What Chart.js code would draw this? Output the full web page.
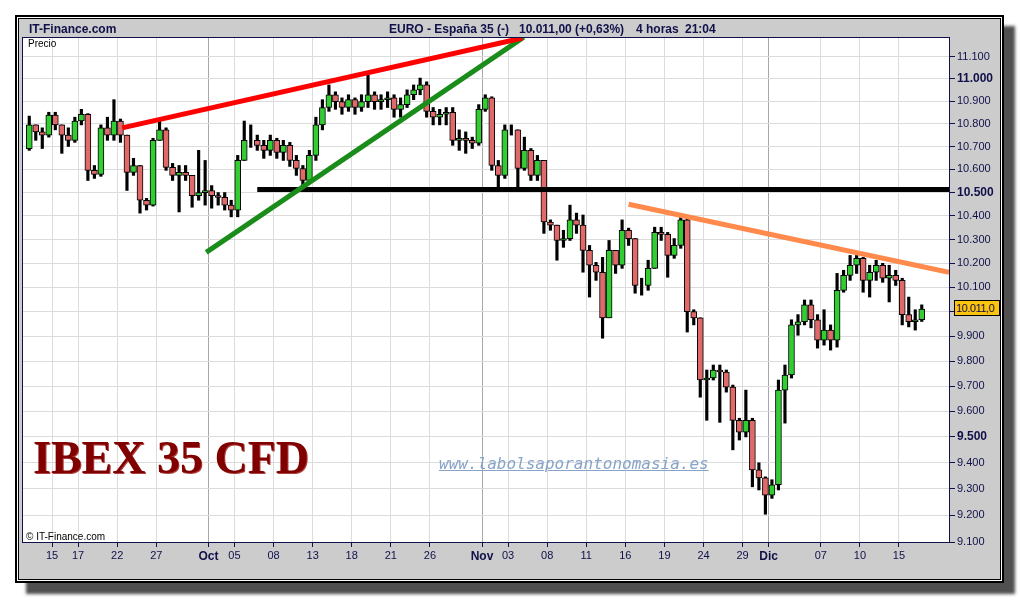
<!DOCTYPE html>
<html>
<head>
<meta charset="utf-8">
<script src="https://cdn.jsdelivr.net/npm/chart.js@4.4.0/dist/chart.umd.min.js"></script>
<style>
    body { margin: 0; width: 1020px; height: 600px; overflow: hidden; position: relative; background: #fff; font-family: "Liberation Sans", Arial, sans-serif; }
    #frame { position: absolute; left: 15px; top: 15px; width: 985px; height: 564px; border: 2px solid #000; background: #fff; box-shadow: 11px 11px 3px #505050; }
    #inner { position: absolute; left: 1px; top: 1px; right: 1px; bottom: 1px; border: 1px solid #000; background: #cccccc; }
    #plotBg { position: absolute; left: 22px; top: 37px; width: 928px; height: 506px; box-sizing: border-box; border: 1px solid #10104a; background: #fff; }
    #chartWrap { position: absolute; left: 0; top: 0; width: 1020px; height: 600px; }
    .txt { position: absolute; white-space: pre; color: #10104a; }
    .head { top: 22px; font-size: 12px; line-height: 14px; font-weight: bold; }
    #ibex { left: 33px; top: 435px; font-family: "Liberation Serif", "DejaVu Serif", serif; font-weight: bold; font-size: 46px; line-height: 46px; color: #800000; text-shadow: 1px 1px 0 #b04040; }
    #web { left: 439px; top: 455px; font-family: "DejaVu Sans Mono", monospace; font-style: oblique; font-size: 16px; line-height: 18px; color: #87a3c8; text-decoration: underline; }
    #lastPrice { left: 954px; top: 300px; width: 46px; height: 16px; box-sizing: border-box; border: 1px solid #000; background: #fdc40f; font-size: 11px; line-height: 14px; padding-left: 1px; letter-spacing: -0.5px; }
</style>
</head>
<body>
<div id="frame"><div id="inner"></div></div>
<div id="plotBg"></div>
<div id="chartWrap"><canvas id="myChart" width="1020" height="600"></canvas></div>
<div class="txt head" style="left:29px">IT-Finance.com</div>
<div class="txt head" style="left:389px">EURO - España 35 (-)</div>
<div class="txt head" style="left:519px">10.011,00 (+0,63%)</div>
<div class="txt head" style="left:636px">4 horas</div>
<div class="txt head" style="left:685px">21:04</div>
<div class="txt" style="left:28px;top:38px;font-size:10px;line-height:11px;color:#000">Precio</div>
<div class="txt" style="left:26px;top:531px;font-size:10px;line-height:11px;color:#000">© IT-Finance.com</div>
<div class="txt" id="ibex">IBEX 35 CFD</div>
<div class="txt" id="web">www.labolsaporantonomasia.es</div>
<div class="txt" id="lastPrice">10.011,0</div>
<script>
// 4 horas, dos velas por sesion (13 sep - 16 dic)
const firstOpen = 10690;
const closes = [
    10795, 10764, 10750, 10838, 10795, 10750, 10727, 10812, 10842, 10596,
    10578, 10782, 10750, 10812, 10750, 10587, 10617, 10467, 10446, 10727,
    10773, 10609, 10574, 10587, 10574, 10487, 10500, 10509, 10487, 10479,
    10446, 10425, 10639, 10727, 10727, 10705, 10683, 10727, 10674, 10705,
    10639, 10604, 10552, 10661, 10795, 10872, 10929, 10898, 10872, 10907,
    10872, 10898, 10929, 10898, 10907, 10915, 10864, 10885, 10929, 10951,
    10973, 10855, 10829, 10842, 10851, 10727, 10736, 10727, 10714, 10864,
    10915, 10617, 10574, 10773, 10773, 10604, 10683, 10574, 10639, 10374,
    10361, 10296, 10304, 10383, 10361, 10254, 10192, 10163, 9975, 10254,
    10192, 10339, 10304, 10108, 10108, 10179, 10330, 10322, 10233, 10275,
    10383, 10000, 9975, 9724, 9732, 9764, 9756, 9696, 9565, 9519,
    9565, 9373, 9342, 9276, 9316, 9684, 9744, 9946, 9959, 10028,
    9967, 9884, 9925, 9884, 10088, 10150, 10192, 10221, 10129, 10163,
    10192, 10138, 10150, 10129, 9988, 9959, 9967, 10011
];
const highs = [
    10834, 10795, 10782, 10851, 10851, 10795, 10782, 10829, 10864, 10845,
    10617, 10795, 10829, 10907, 10821, 10750, 10648, 10617, 10475, 10736,
    10816, 10782, 10626, 10617, 10617, 10574, 10683, 10639, 10530, 10500,
    10500, 10467, 10661, 10812, 10795, 10750, 10727, 10750, 10736, 10727,
    10718, 10661, 10617, 10683, 10829, 10907, 10973, 10942, 10915, 10929,
    10915, 10929, 11018, 10942, 10929, 10942, 10929, 10915, 10951, 10973,
    11004, 10987, 10872, 10864, 10872, 10872, 10773, 10764, 10741, 10885,
    10929, 10920, 10639, 10795, 10795, 10773, 10741, 10691, 10661, 10639,
    10383, 10361, 10339, 10446, 10412, 10404, 10275, 10204, 10225, 10296,
    10254, 10383, 10348, 10304, 10138, 10213, 10352, 10352, 10330, 10304,
    10396, 10392, 10008, 9975, 9764, 9784, 9784, 9764, 9704, 9573,
    9684, 9573, 9400, 9346, 9335, 9724, 9784, 9967, 9988, 10048,
    10048, 9988, 10008, 9946, 10158, 10171, 10233, 10233, 10225, 10192,
    10213, 10200, 10192, 10171, 10138, 10060, 10008, 10028
];
const lows = [
    10683, 10727, 10691, 10741, 10773, 10670, 10700, 10718, 10795, 10552,
    10561, 10570, 10727, 10727, 10718, 10509, 10574, 10412, 10425, 10442,
    10727, 10596, 10552, 10417, 10552, 10437, 10467, 10446, 10433, 10446,
    10425, 10396, 10396, 10639, 10696, 10683, 10648, 10661, 10648, 10639,
    10613, 10574, 10526, 10539, 10639, 10773, 10855, 10864, 10842, 10855,
    10842, 10855, 10872, 10864, 10864, 10872, 10829, 10829, 10872, 10907,
    10929, 10829, 10795, 10795, 10795, 10705, 10683, 10670, 10691, 10705,
    10855, 10596, 10522, 10561, 10750, 10522, 10596, 10552, 10552, 10326,
    10339, 10213, 10267, 10296, 10326, 10163, 10060, 10129, 9892, 9975,
    10158, 10179, 10275, 10076, 10068, 10088, 10179, 10296, 10142, 10221,
    10263, 9917, 9946, 9656, 9565, 9724, 9557, 9676, 9450, 9488,
    9500, 9308, 9296, 9204, 9264, 9296, 9554, 9732, 9904, 9946,
    9934, 9852, 9864, 9844, 9856, 10080, 10129, 10158, 10080, 10060,
    10129, 10121, 10040, 10108, 9946, 9938, 9925, 9960
];

// eje x: sesiones desde el 13 sep
const tickDays = [2, 4, 7, 10, 14, 16, 19, 22, 25, 28, 31, 35, 37, 40, 43, 46, 49, 52, 55, 57, 61, 64, 67];
const tickLabels = ['15', '17', '22', '27', 'Oct', '05', '08', '13', '18', '21', '26', 'Nov', '03', '08', '11', '16', '19', '24', '29', 'Dic', '07', '10', '15'];
const monthLabels = ['Oct', 'Nov', 'Dic'];
const xMin = -0.23, xMax = 70.84;

const yTicks = [9100, 9200, 9300, 9400, 9500, 9600, 9700, 9800, 9900, 10000, 10100, 10200, 10300, 10400, 10500, 10600, 10700, 10800, 10900, 11000, 11100];
const yBold = [9500, 10500, 11000];
const yMin = 9100, yMax = 11186;

// lineas de tendencia [sesion, precio]
const redLine = [[7.38, 10782], [38.11, 11186]];
const greenLine = [[13.83, 10246], [38.2, 11190]];
const blackLine = [[17.75, 10513], [71, 10513]];
const orangeLine = [[46.25, 10450], [70.84, 10163]];

const navy = '#10104a';

function candleX(i) {
    return Math.floor(i / 2) + (i % 2 ? 0.75 : 0.25);
}

const opens = closes.map((c, i) => i ? closes[i - 1] : firstOpen);
const bodyData = closes.map((c, i) => ({ x: candleX(i), y: [opens[i], c] }));
const wickData = closes.map((c, i) => ({ x: candleX(i), y: [lows[i], highs[i]] }));
const bodyColors = closes.map((c, i) => c >= opens[i] ? '#33cc33' : '#e06a6a');

function trend(points, color) {
    return {
        type: 'line',
        data: points.map(p => ({ x: p[0], y: p[1] })),
        borderColor: color,
        borderWidth: 5,
        pointRadius: 0,
        fill: false,
        order: 0
    };
}

function fmt(v) {
    return String(v).replace(/\B(?=(\d{3})+(?!\d))/g, '.');
}

var ctx = document.getElementById('myChart').getContext('2d');
var chart = new Chart(ctx, {
    type: 'bar',
    data: {
        datasets: [
            trend(redLine, '#ff0000'),
            trend(greenLine, '#1a8c1a'),
            trend(blackLine, '#000000'),
            trend(orangeLine, '#ff8a4c'),
            {
                label: 'cuerpo',
                data: bodyData,
                backgroundColor: bodyColors,
                borderColor: '#000',
                borderWidth: 1,
                borderSkipped: false,
                barThickness: 6,
                grouped: false,
                order: 1
            },
            {
                label: 'mecha',
                data: wickData,
                backgroundColor: '#000',
                borderWidth: 0,
                barThickness: 2.5,
                grouped: false,
                order: 2
            }
        ]
    },
    options: {
        responsive: false,
        animation: false,
        events: [],
        layout: { padding: { left: 23, top: 38, right: 0, bottom: 0 } },
        plugins: { legend: { display: false }, tooltip: { enabled: false } },
        scales: {
            x: {
                type: 'linear',
                min: xMin,
                max: xMax,
                offset: false,
                afterBuildTicks: s => { s.ticks = tickDays.map(v => ({ value: v })); },
                afterFit: s => { s.height = 58; },
                border: { color: navy },
                grid: {
                    offset: false,
                    color: c => c.tick && monthLabels.includes(tickLabels[tickDays.indexOf(c.tick.value)]) ? '#a8a8a8' : '#dcdcdc',
                    tickColor: navy,
                    tickLength: 5
                },
                ticks: {
                    autoSkip: false,
                    maxRotation: 0,
                    padding: 2,
                    color: navy,
                    callback: v => tickLabels[tickDays.indexOf(v)],
                    font: c => {
                        const lab = c.tick ? tickLabels[tickDays.indexOf(c.tick.value)] : '';
                        return monthLabels.includes(lab)
                            ? { family: 'Liberation Sans', size: 12, weight: 'bold' }
                            : { family: 'Liberation Sans', size: 11 };
                    }
                }
            },
            y: {
                type: 'logarithmic',
                position: 'right',
                min: yMin,
                max: yMax,
                afterBuildTicks: s => { s.ticks = yTicks.map(v => ({ value: v })); },
                afterFit: s => { s.width = 71; },
                border: { color: navy },
                grid: { color: '#dcdcdc', tickColor: navy, tickLength: 6 },
                ticks: {
                    padding: 2,
                    color: navy,
                    callback: v => fmt(v),
                    font: c => c.tick && yBold.includes(c.tick.value)
                        ? { family: 'Liberation Sans', size: 12, weight: 'bold' }
                        : { family: 'Liberation Sans', size: 11 }
                }
            }
        }
    }
});
</script>
</body>
</html>
